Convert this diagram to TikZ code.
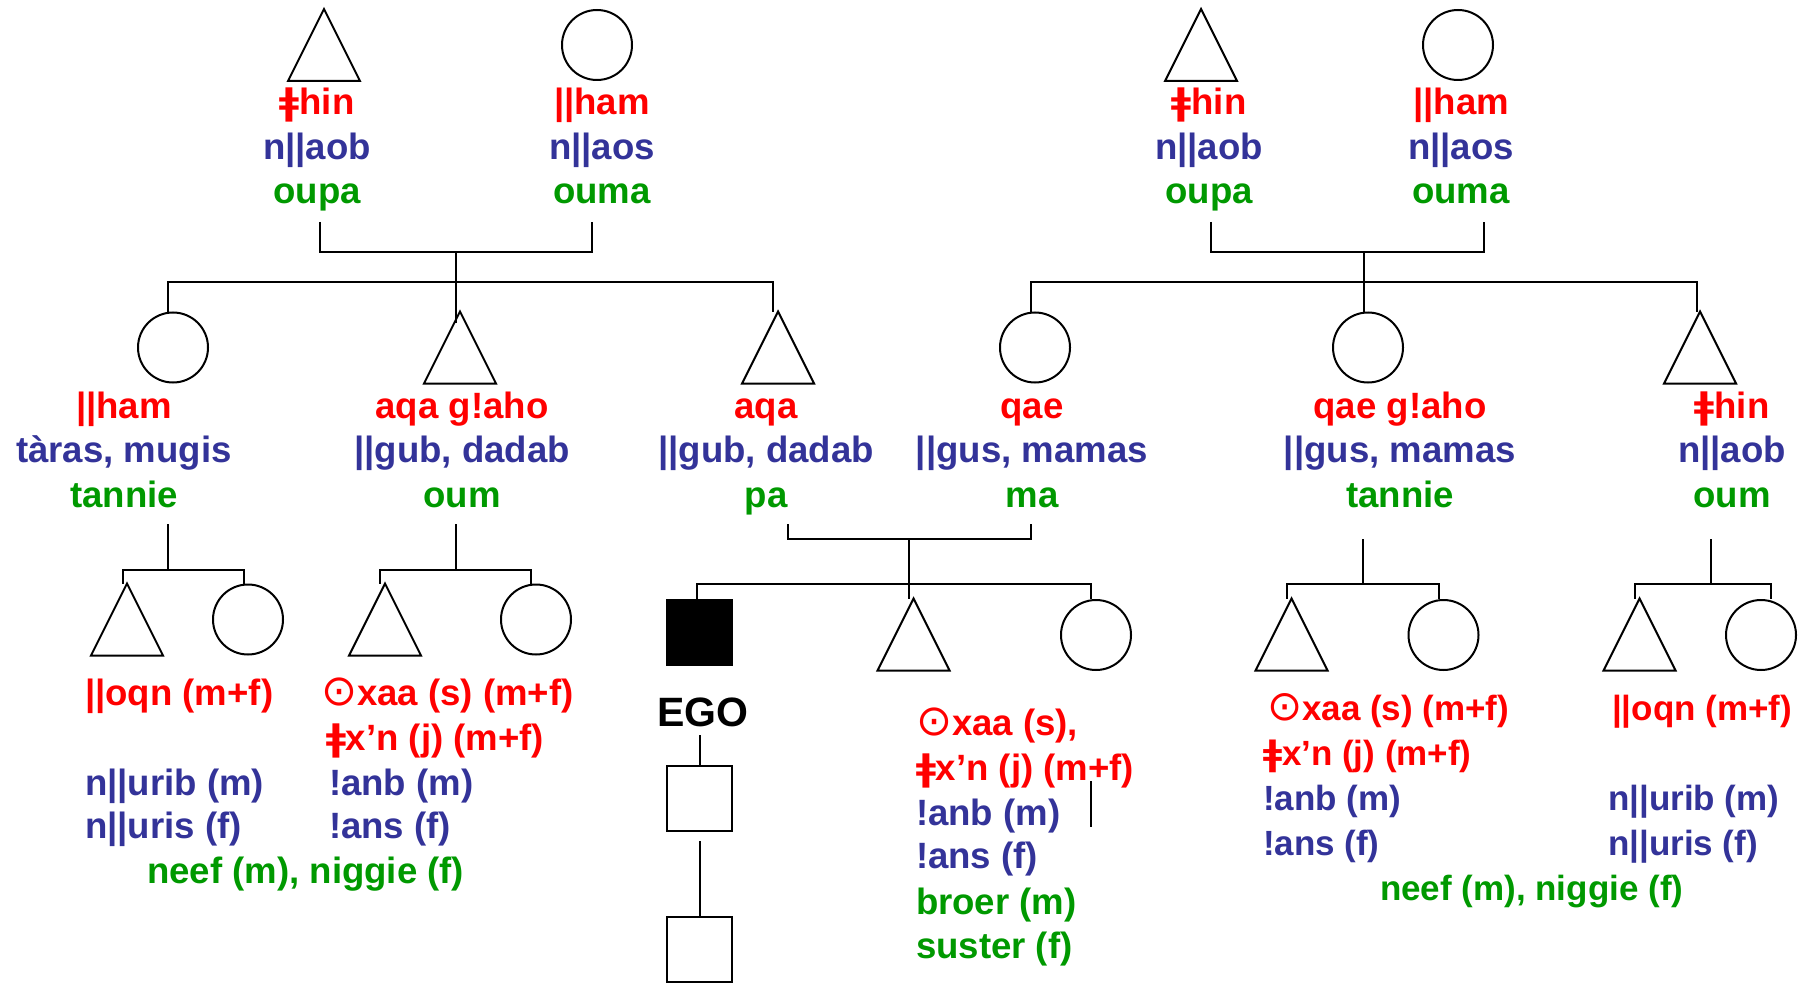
\documentclass[tikz,border=0pt]{standalone}
\usepackage{fontspec}
\setmainfont{Liberation Sans}
\newfontfamily\dvs{DejaVu Sans}
\definecolor{kred}{RGB}{255,0,0}
\definecolor{kblue}{RGB}{51,51,153}
\definecolor{kgreen}{RGB}{0,153,0}
\newcommand\kdz{{\dvs ǂ}}
\newcommand\ksun{{\dvs\mdseries\fontsize{21.5pt}{22pt}\selectfont ⊙}}
\newcommand\ksunS{{\dvs\mdseries\fontsize{21pt}{22pt}\selectfont ⊙}}
\newcommand\lblfont{\fontsize{18.3pt}{22pt}\selectfont\bfseries}
\newcommand\lblfontS{\fontsize{17.5pt}{21pt}\selectfont\bfseries}
\newcommand\egofont{\fontsize{20.5pt}{24pt}\selectfont\bfseries}
\begin{document}
\begin{tikzpicture}[x=0.5pt,y=-0.5pt,line width=1pt,
  circ/.style={circle,draw,minimum size=35pt,inner sep=0pt},
  tribox/.style={rectangle,inner sep=0pt,minimum width=35pt,minimum height=35pt},
  sqbox/.style={rectangle,draw,minimum size=32.5pt,inner sep=0pt},
  egobox/.style={sqbox,fill=black},
  lbl/.style={inner sep=0pt,anchor=base,font=\lblfont},
  tred/.style={lbl,text=kred},
  tblue/.style={lbl,text=kblue},
  tgreen/.style={lbl,text=kgreen},
  lft/.style={anchor=base west},
  sm/.style={font=\lblfontS}]
\fill[white] (0,0) rectangle (1798,984);
\useasboundingbox (0,0) rectangle (1798,984);
% ---------- shapes ----------
\node[tribox] (gfL) at (324,45) {};
\node[circ] (gmL) at (597,45) {};
\node[tribox] (gfR) at (1201,45) {};
\node[circ] (gmR) at (1458,45) {};
\node[circ] (auntL) at (173,347.5) {};
\node[tribox] (uncL) at (460,347.5) {};
\node[tribox] (fa) at (778,347.5) {};
\node[circ] (mo) at (1035,347.5) {};
\node[circ] (auntR) at (1368,347.5) {};
\node[tribox] (uncR) at (1700,347.5) {};
\node[tribox] (c1) at (127,619.5) {};
\node[circ] (c2) at (248,619.5) {};
\node[tribox] (c3) at (385,619.5) {};
\node[circ] (c4) at (536,619.5) {};
\node[egobox] (ego) at (699.5,632) {};
\node[tribox] (bro) at (913.5,634.5) {};
\node[circ] (sis) at (1096,635) {};
\node[tribox] (c5) at (1291.5,634.5) {};
\node[circ] (c6) at (1443.5,635) {};
\node[tribox] (c7) at (1639.5,634.5) {};
\node[circ] (c8) at (1761,635) {};
\node[sqbox] (son) at (699.5,798.5) {};
\node[sqbox] (gson) at (699.5,949.5) {};
\foreach \n in {gfL,gfR,uncL,fa,uncR,c1,c3,bro,c5,c7}
  \draw[line join=miter] (\n.north) -- (\n.south west) -- (\n.south east) -- cycle;
% ---------- connectors ----------
\coordinate (aL) at (320,222); \coordinate (bL) at (592,222);
\coordinate (mbL) at (456,252); \coordinate (vL) at (456,323);
\draw (aL) |- (mbL) -| (bL);
\draw (mbL) -- (vL);
\coordinate (sbL1) at (168,282); \coordinate (sbL2) at (773,282);
\draw (sbL1 |- auntL.north) -- (sbL1) -- (sbL2) -- (sbL2 |- fa.north);
\coordinate (aR) at (1211,222); \coordinate (bR) at (1484,222);
\coordinate (mbR) at (1364,252);
\draw (aR) |- (mbR) -| (bR);
\draw (mbR) -- (mbR |- auntR.north);
\coordinate (sbR1) at (1031,282); \coordinate (sbR2) at (1697,282);
\draw (sbR1 |- mo.north) -- (sbR1) -- (sbR2) -- (sbR2 |- uncR.north);
\coordinate (dA) at (168,524); \coordinate (hA1) at (123,570); \coordinate (hA2) at (244,570);
\draw (dA) -- (dA |- hA1);
\draw (hA1 |- c1.north) -- (hA1) -- (hA2) -- (hA2 |- c2.north);
\coordinate (dB) at (456,524); \coordinate (hB1) at (380,570); \coordinate (hB2) at (531,570);
\draw (dB) -- (dB |- hB1);
\draw (hB1 |- c3.north) -- (hB1) -- (hB2) -- (hB2 |- c4.north);
\coordinate (pA) at (788,524); \coordinate (pB) at (1031,524); \coordinate (pm) at (909,539);
\draw (pA) |- (pm) -| (pB);
\draw (pm) -- (pm |- bro.north);
\coordinate (se1) at (697,584); \coordinate (se2) at (1091,584);
\draw (se1 |- ego.north) -- (se1) -- (se2) -- (se2 |- sis.north);
\coordinate (st1) at (1091,781); \coordinate (st2) at (1091,827);
\draw (st1) -- (st2);
\draw (son.north) -- ++(0,-30);
\draw (gson.north) -- ++(0,-75);
\coordinate (dE) at (1363,539); \coordinate (hE1) at (1287,584); \coordinate (hE2) at (1439,584);
\draw (dE) -- (dE |- hE1);
\draw (hE1 |- c5.north) -- (hE1) -- (hE2) -- (hE2 |- c6.north);
\coordinate (dF) at (1711,539); \coordinate (hF1) at (1635,584); \coordinate (hF2) at (1771,584);
\draw (dF) -- (dF |- hF1);
\draw (hF1 |- c7.north) -- (hF1) -- (hF2) -- (hF2 |- c8.north);
% ---------- labels generation 1 ----------
\node[tred] (l1a) at (317,115) {\kdz hin};
\node[tblue] (l1b) at (317,160) {n||aob};
\node[tgreen] (l1c) at (317,204) {oupa};
\node[tred] (l2a) at (602,115) {||ham};
\node[tblue] (l2b) at (602,160) {n||aos};
\node[tgreen] (l2c) at (602,204) {ouma};
\node[tred] (l3a) at (1209,115) {\kdz hin};
\node[tblue] (l3b) at (1209,160) {n||aob};
\node[tgreen] (l3c) at (1209,204) {oupa};
\node[tred] (l4a) at (1461,115) {||ham};
\node[tblue] (l4b) at (1461,160) {n||aos};
\node[tgreen] (l4c) at (1461,204) {ouma};
% ---------- labels generation 2 ----------
\node[tred] (m1a) at (124,418) {||ham};
\node[tblue] (m1b) at (124,462) {tàras, mugis};
\node[tgreen] (m1c) at (124,507) {tannie};
\node[tred] (m2a) at (462,418) {aqa g!aho};
\node[tblue] (m2b) at (462,462) {||gub, dadab};
\node[tgreen] (m2c) at (462,507) {oum};
\node[tred] (m3a) at (766,418) {aqa};
\node[tblue] (m3b) at (766,462) {||gub, dadab};
\node[tgreen] (m3c) at (766,507) {pa};
\node[tred] (m4a) at (1032,418) {qae};
\node[tblue] (m4b) at (1032,462) {||gus, mamas};
\node[tgreen] (m4c) at (1032,507) {ma};
\node[tred] (m5a) at (1400,418) {qae g!aho};
\node[tblue] (m5b) at (1400,462) {||gus, mamas};
\node[tgreen] (m5c) at (1400,507) {tannie};
\node[tred] (m6a) at (1732,418) {\kdz hin};
\node[tblue] (m6b) at (1732,462) {n||aob};
\node[tgreen] (m6c) at (1732,507) {oum};
% ---------- labels generation 3 ----------
\node[tred,lft] (n1) at (84,705) {||oqn (m+f)};
\node[tblue,lft] (n2) at (84,795) {n||urib (m)};
\node[tblue,lft] (n3) at (84,838) {n||uris (f)};
\node[tred,lft] (n4) at (320,705) {\ksun xaa (s) (m+f)};
\node[tred,lft] (n5) at (325,750) {\kdz x’n (j) (m+f)};
\node[tblue,lft] (n6) at (328,795) {!anb (m)};
\node[tblue,lft] (n7) at (328,838) {!ans (f)};
\node[tgreen,lft] (n8) at (146,883) {neef (m), niggie (f)};
\node[inner sep=0pt,anchor=base,font=\egofont] (egot) at (703,726) {EGO};
\node[tred,lft] (e1) at (915,735) {\ksun xaa (s),};
\node[tred,lft] (e2) at (915,780) {\kdz x’n (j) (m+f)};
\node[tblue,lft] (e3) at (915,825) {!anb (m)};
\node[tblue,lft] (e4) at (915,868) {!ans (f)};
\node[tgreen,lft] (e5) at (915,914) {broer (m)};
\node[tgreen,lft] (e6) at (915,958) {suster (f)};
\node[tred,lft,sm] (r1) at (1266,720) {\ksunS xaa (s) (m+f)};
\node[tred,lft,sm] (r2) at (1262,765) {\kdz x’n (j) (m+f)};
\node[tblue,lft,sm] (r3) at (1262,810) {!anb (m)};
\node[tblue,lft,sm] (r4) at (1262,855) {!ans (f)};
\node[tgreen,lft,sm] (r5) at (1379,900) {neef (m), niggie (f)};
\node[tred,lft,sm] (r6) at (1611,720) {||oqn (m+f)};
\node[tblue,lft,sm] (r7) at (1607,810) {n||urib (m)};
\node[tblue,lft,sm] (r8) at (1607,855) {n||uris (f)};
\end{tikzpicture}
\end{document}
